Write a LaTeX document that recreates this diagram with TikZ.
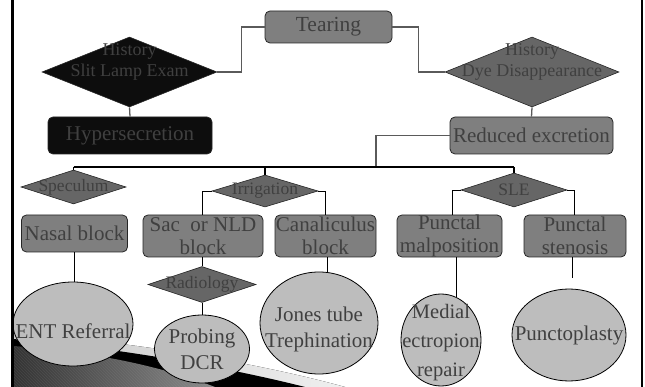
\documentclass[tikz,border=0pt]{standalone}
\usepackage{fontspec}
\setmainfont{Liberation Serif}
\usetikzlibrary{shapes.geometric,patterns}
\definecolor{txt}{HTML}{404040}
\definecolor{boxg}{HTML}{7F7F7F}
\definecolor{diag}{HTML}{666666}
\definecolor{blk}{HTML}{0D0D0D}
\definecolor{circ}{HTML}{BDBDBD}
\definecolor{edge}{HTML}{262626}
\definecolor{conn}{HTML}{5A5A5A}
\tikzset{
 boxs/.style={rectangle, draw=edge, line width=0.8pt, rounded corners=5pt, fill=boxg, text=txt, inner sep=0pt, align=center, font=\fontsize{21}{23}\selectfont},
 dia/.style={diamond, draw=edge, line width=0.6pt, fill=diag, inner sep=0pt},
 ell/.style={ellipse, draw=black, line width=0.8pt, fill=circ, inner sep=0pt},
 dtxt/.style={text=txt, align=center, inner sep=0pt, font=\fontsize{18}{21}\selectfont},
 dlab/.style={text=txt, align=center, inner sep=0pt, font=\fontsize{17.5}{20}\selectfont},
 etxt/.style={text=txt, align=center, inner sep=0pt, font=\fontsize{21}{26}\selectfont},
 topline/.style={draw=conn, line width=1.3pt},
 busline/.style={draw=black, line width=1.2pt},
 lowline/.style={draw=black, line width=0.8pt},
 frameline/.style={draw=black, line width=2.5pt}
}
\begin{document}
\begin{tikzpicture}[x=1pt,y=-1pt]
\useasboundingbox (0,0) rectangle (645,387);
% slide decoration
\begin{scope}
\clip (0,0) rectangle (645,387);
\fill[left color=black!22, right color=black!6] (13,333) .. controls (125,341) and (250,361) .. (345,387) -- (13,387) -- cycle;
\fill[black] (13,339) .. controls (120,348) and (230,368) .. (305,387) -- (13,387) -- cycle;
\shade[left color=black!80, right color=black!45] (13,346) .. controls (80,351) and (150,362) .. (215,387) -- (13,387) -- cycle;
\fill[pattern=north west lines, pattern color=black!30, opacity=0.12] (13,346) .. controls (80,351) and (150,362) .. (215,387) -- (13,387) -- cycle;
\end{scope}
% top level
\node[boxs, minimum width=127pt, minimum height=32pt, font=\fontsize{21.5}{23}\selectfont] (tear) at (328.5,27) {Tearing};
\node[dia, fill=blk, minimum width=175pt, minimum height=70pt] (ld) at (129.5,72) {};
\node[dia, minimum width=174pt, minimum height=70pt] (rd) at (532,72) {};
\node[dtxt] (ldT) at ([yshift=10pt]ld.center) {History\\Slit Lamp Exam};
\node[dtxt] (rdT) at ([yshift=10pt]rd.center) {History\\Dye Disappearance};
\node[boxs, fill=blk, minimum width=164pt, minimum height=37pt] (hyp) at (130,135.5) {Hypersecretion};
\node[boxs, minimum width=163pt, minimum height=37pt] (red) at (531.5,135.5) {Reduced excretion};
% second level diamonds
\node[dia, minimum width=105pt, minimum height=34pt] (spec) at (73.5,187) {};
\node[dia, minimum width=106pt, minimum height=32pt] (irr) at (265,191) {};
\node[dia, minimum width=106pt, minimum height=34pt] (sle) at (514,190) {};
\node[dlab] (specT) at (spec) {Speculum};
\node[dlab] (irrT) at (irr) {Irrigation};
\node[dlab] (sleT) at (sle) {SLE};
% boxes
\node[boxs, minimum width=106pt, minimum height=37pt] (nasal) at (74.5,233.5) {Nasal block};
\node[boxs, minimum width=120pt, minimum height=42pt] (sac) at (203,236) {Sac~ or NLD\\block};
\node[boxs, minimum width=101pt, minimum height=42pt] (canal) at (325.5,236) {Canaliculus\\block};
\node[boxs, minimum width=105pt, minimum height=42pt] (pmal) at (449.5,236) {Punctal\\malposition};
\node[boxs, minimum width=102pt, minimum height=42pt] (pste) at (575,236) {Punctal\\stenosis};
\node[dia, minimum width=108pt, minimum height=36pt] (radio) at (202,284.5) {};
\node[dlab] (radioT) at (radio) {Radiology};
% ellipses
\node[ell, minimum width=120pt, minimum height=84pt] (ent) at (73,324) {};
\node[ell, minimum width=95pt, minimum height=68pt] (prob) at (202,349) {};
\node[ell, minimum width=118pt, minimum height=102pt] (jones) at (319,323) {};
\node[ell, minimum width=80pt, minimum height=92pt] (medial) at (441,340) {};
\node[ell, minimum width=114pt, minimum height=92pt] (punc) at (569,335) {};
\node[etxt] (entT) at ([yshift=-7pt]ent.center) {ENT Referral};
\node[etxt] (probT) at (prob) {Probing\\DCR};
\node[etxt] (jonesT) at ([yshift=-6pt]jones.center) {Jones tube\\Trephination};
\node[etxt, font=\fontsize{20.5}{29}\selectfont] (medialT) at ([yshift=-3pt]medial.center) {Medial\\ectropion\\repair};
\node[etxt] (puncT) at (punc) {Punctoplasty};
% coordinates
\coordinate (busm) at (376,167);
\coordinate (busl) at (73.5,167);
\coordinate (busr) at (514,167);
\coordinate (psend) at (572,278);
% connectors top
\draw[topline] (ld.east) -- ++(24,0) |- (tear.west);
\draw[topline] (tear.east) -- ++(26,0) |- (rd.west);
\draw[topline] (ld.south) -- (hyp.north);
\draw[topline] (rd.south) -- (red.north);
\draw[topline] (red.west) -| (busm);
% bus
\draw[busline] (busl) -- (busr);
\draw[busline] (busl) -- (spec.north);
\draw[busline] (irr.north |- busl) -- (irr.north);
\draw[busline] (busr) -- (sle.north);
% lower connectors
\draw[lowline] (irr.west) -| ([xshift=-1pt]sac.north);
\draw[lowline] (irr.east) -| (canal.north);
\draw[lowline] (sle.west) -| ([xshift=3pt]pmal.north);
\draw[lowline] (sle.east) -| ([xshift=-1pt]pste.north);
\draw[lowline] ([xshift=-1pt]sac.south) -- (radio.north);
\draw[lowline] (radio.south) -- (prob.north);
\draw[lowline] (nasal.south) -- (nasal.south |- ent.north);
\draw[lowline] ([xshift=2pt]canal.south) -- ([xshift=2pt]canal.south |- jones.north);
\draw[lowline] (pmal.south -| medial.70) -- (medial.70);
\draw[lowline] (pste.south -| psend) -- (psend);
% frame
\draw[frameline] (12.3,0) -- (12.3,387);
\draw[frameline] (642,0) -- (642,387);
\end{tikzpicture}
\end{document}
